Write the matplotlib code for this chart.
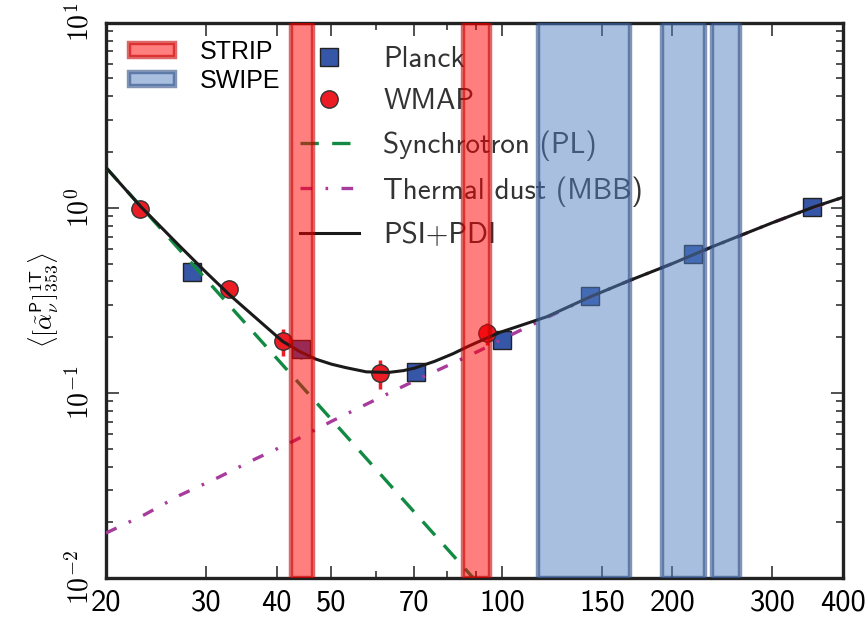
import matplotlib
matplotlib.use("Agg")
import matplotlib.pyplot as plt
from matplotlib.patches import Patch
from matplotlib.lines import Line2D

plt.rcParams["mathtext.fontset"] = "cm"

# data
planck_freq = [28.4, 44.1, 70.4, 100, 143, 217, 353]
planck_val = [0.452, 0.172, 0.130, 0.193, 0.334, 0.563, 1.014]
planck_err = [0.04, 0.02, 0.012, 0.01, 0.01, 0.015, 0.02]

wmap_freq = [23, 33, 41, 61, 94]
wmap_val = [0.99, 0.363, 0.19, 0.1285, 0.211]
wmap_err = [0.1, 0.02, 0.032, 0.023, 0.029]

sync_freq = [20, 89]
sync_val = [1.65, 0.01]

dust_freq = [20, 23.4, 27, 31.6, 36.7, 42.9, 49.9, 57.9, 67.5, 80, 91.6, 100,
             120, 143, 168, 200, 235, 300, 353, 400]
dust_val = [0.0175, 0.022, 0.028, 0.035, 0.044, 0.055, 0.070, 0.0875, 0.110,
            0.140, 0.170, 0.195, 0.255, 0.33, 0.405, 0.50, 0.615, 0.83, 1.0, 1.14]

total_freq = [20, 23, 27, 30, 33, 37, 41, 44, 47, 50, 53, 57.6, 63, 67, 70, 76,
              82, 87, 93, 99, 110, 120, 143, 168, 200, 235, 300, 355, 400]
total_val = [1.65, 1.02, 0.62, 0.45, 0.34, 0.25, 0.19, 0.167, 0.152, 0.143,
             0.137, 0.130, 0.129, 0.132, 0.136, 0.148, 0.163, 0.178, 0.195,
             0.212, 0.236, 0.258, 0.33, 0.405, 0.50, 0.616, 0.83, 1.01, 1.14]

strip_bands = [(42.4, 46.3), (85.3, 95.3)]
swipe_bands = [(115.8, 168.3), (191.4, 228.2), (235.3, 263.0)]

xticks = [20, 30, 40, 50, 70, 100, 150, 200, 300, 400]
xminor = [60, 80, 90]
yticks = [1e-2, 1e-1, 1e0, 1e1]
ytick_labels = [r"$10^{-2}$", r"$10^{-1}$", r"$10^{0}$", r"$10^{1}$"]

red_face = (1.0, 0.0, 0.0, 0.5)
red_edge = (0.78, 0.0, 0.0, 0.6)
blue_face = (0.32, 0.5, 0.76, 0.5)
blue_edge = (0.18, 0.3, 0.52, 0.6)

fig = plt.figure(figsize=(8.67, 6.21), dpi=100)
ax = fig.add_axes([0.1223, 0.0692, 0.85, 0.8942])
ax.set_xscale("log")
ax.set_yscale("log")

ax.errorbar(planck_freq, planck_val, yerr=planck_err, fmt="s", ms=12.5,
            mfc="#3656a8", mec="#222222", mew=1.0, ecolor="#3656a8",
            elinewidth=2, capsize=0, zorder=3)
ax.errorbar(wmap_freq, wmap_val, yerr=wmap_err, fmt="o", ms=12.5,
            mfc="#ec1c24", mec="#333333", mew=1.0, ecolor="#ec1c24",
            elinewidth=2.5, capsize=0, zorder=3)
ax.plot(sync_freq, sync_val, color="#138a43", lw=2.4, ls=(0, (5.5, 4)), zorder=3.5)
ax.plot(dust_freq, dust_val, color="#a83c9c", lw=2.4,
        ls=(0, (3.5, 4, 0.8, 4)), zorder=3.5)
ax.plot(total_freq, total_val, color="#1a1a1a", lw=2.2, zorder=4)

for lo, hi in strip_bands:
    ax.axvspan(lo, hi, fc=red_face, ec=red_edge, lw=3.2, zorder=6)
for lo, hi in swipe_bands:
    ax.axvspan(lo, hi, fc=blue_face, ec=blue_edge, lw=3.2, zorder=6)

ax.set_xlim(20, 400)
ax.set_ylim(1e-2, 1e1)

ax.set_xticks(xticks)
ax.set_xticklabels([str(t) for t in xticks], family=["cmss10", "DejaVu Sans"],
                   fontsize=22)
ax.set_xticks(xminor, minor=True)
ax.set_xticklabels([], minor=True)
ax.set_yticks(yticks)
ax.set_yticklabels(ytick_labels, rotation=90, va="center", fontsize=20)
ax.yaxis.set_minor_locator(matplotlib.ticker.LogLocator(base=10, subs=range(2, 10)))
ax.yaxis.set_minor_formatter(matplotlib.ticker.NullFormatter())
ax.tick_params(which="both", direction="in", top=True, right=True,
               color="#333333", width=1.2)
ax.tick_params(which="major", length=9, pad=8)
ax.tick_params(which="minor", length=5)
for s in ax.spines.values():
    s.set_linewidth(2.4)
    s.set_color("#222222")

ax.set_ylabel(r"$\langle[\tilde{\alpha}^{\mathsf{P}}_{\nu}]^{\mathsf{1T}}_{\mathsf{353}}\rangle$",
              fontsize=18, labelpad=4)

# band legend
band_handles = [Patch(fc=red_face, ec=red_edge, lw=3.2),
                Patch(fc=blue_face, ec=blue_edge, lw=3.2)]
leg1 = ax.legend(band_handles, ["STRIP", "SWIPE"], loc="upper left",
                 bbox_to_anchor=(0.0, 1.01), frameon=False,
                 prop={"family": "Liberation Sans", "size": 18},
                 handlelength=1.85, handleheight=0.5, labelspacing=0.22,
                 handletextpad=1.0)
ax.add_artist(leg1)

# data/model legend
model_handles = [
    Line2D([], [], ls="none", marker="s", ms=12.5, mfc="#3656a8", mec="#222222"),
    Line2D([], [], ls="none", marker="o", ms=12.5, mfc="#ec1c24", mec="#333333"),
    Line2D([], [], color="#138a43", lw=2.4, ls=(0, (5.5, 4))),
    Line2D([], [], color="#a83c9c", lw=2.4, ls=(0, (3.5, 4, 0.8, 4))),
    Line2D([], [], color="#1a1a1a", lw=2.2),
]
model_labels = ["Planck", "WMAP", "Synchrotron (PL)", "Thermal dust (MBB)", "PSI+PDI"]
leg2 = ax.legend(model_handles, model_labels, loc="upper left",
                 bbox_to_anchor=(0.228, 1.005), frameon=False,
                 prop={"family": ["cmss10", "DejaVu Sans"], "size": 21},
                 labelcolor="#333333", handlelength=2.0, labelspacing=0.52,
                 handletextpad=0.85, numpoints=1)

fig.savefig("out.png", dpi=100)
